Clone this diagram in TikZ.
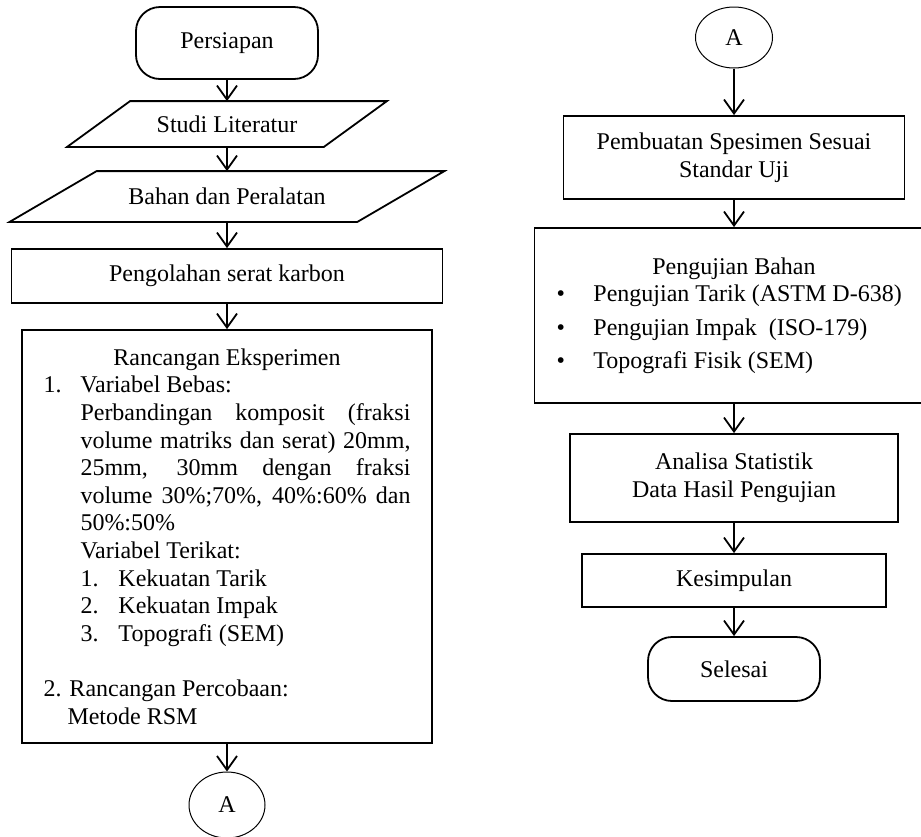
\documentclass[tikz,border=0pt]{standalone}
\usepackage{fontspec}
\setmainfont{Liberation Serif}
\usetikzlibrary{shapes.geometric,arrows.meta}
\setlength{\parindent}{0pt}
\newcommand{\testitem}[1]{\makebox[199.5pt][l]{\hspace*{11pt}\makebox[18.5pt][l]{\textbullet}#1}}

\begin{document}
\begin{tikzpicture}[x=0.5pt, y=-0.5pt,
	every node/.style={font=\fontsize{12}{13.8}\selectfont, line width=0.9pt, inner sep=2pt},
	procbox/.style={draw, rectangle, align=center},
	termbox/.style={draw, rectangle, rounded corners=12pt, align=center},
	iobox/.style={rectangle, inner sep=0pt},
	connector/.style={draw, ellipse, line width=0.5pt, inner sep=0pt},
	flow/.style={line width=0.9pt, -{Straight Barb[length=7pt,width=10pt]}}]
		\useasboundingbox (0,0) rectangle (921,836);

		%––––– left column –––––
		\node[termbox, minimum width=91pt, minimum height=36pt] (start) at (227,43) {Persiapan};

		\node[iobox, minimum width=159pt, minimum height=22pt] (lit) at (227,124) {Studi Literatur};
		\draw[line width=0.9pt] ([xshift=31.5pt]lit.north west) -- (lit.north east)
			-- ([xshift=-31.5pt]lit.south east) -- (lit.south west) -- cycle;
		\draw[flow] (start.south) -- (lit.north);

		\node[iobox, minimum width=216.5pt, minimum height=24.5pt] (tools) at (227,196.5) {Bahan dan Peralatan};
		\draw[line width=0.9pt] ([xshift=43.5pt]tools.north west) -- (tools.north east)
			-- ([xshift=-43.5pt]tools.south east) -- (tools.south west) -- cycle;
		\draw[flow] (lit.south) -- (tools.north);

		\node[procbox, minimum width=215.5pt, minimum height=27pt] (fiber) at (227,276) {Pengolahan serat karbon};
		\draw[flow] (tools.south) -- (fiber.north);

		\node[draw, rectangle, text width=183.5pt, inner xsep=10.75pt, minimum height=206.5pt, align=justify]
			(design)
			at
			(227,536.5)
			{%
				{\centering Rancangan Eksperimen\par}
				\makebox[18.5pt][l]{1.}Variabel Bebas:\par
				{\leftskip=18.5pt \hyphenpenalty=10000
				Perbandingan komposit (fraksi\linebreak volume matriks dan serat) 20mm,\linebreak
				25mm, 30mm dengan fraksi\linebreak volume 30\%;70\%, 40\%:60\% dan\linebreak 50\%:50\%\par
				Variabel Terikat:\par
				\makebox[19pt][l]{1.}Kekuatan Tarik\par
				\makebox[19pt][l]{2.}Kekuatan Impak\par
				\makebox[19pt][l]{3.}Topografi (SEM)\par}
				\vspace{13.8pt}
				2. Rancangan Percobaan:\par
				{\leftskip=12pt Metode RSM\par}
			};
		\draw[flow] (fiber.south) -- (design.north);

		\node[connector, minimum width=38pt, minimum height=33pt] (linkout) at (227,805) {A};
		\draw[flow] (design.south) -- (linkout.north);

		%––––– right column –––––
		\node[connector, minimum width=38.5pt, minimum height=30.5pt] (linkin) at (734,37.5) {A};

		\node[procbox, minimum width=170.5pt, minimum height=41.5pt] (spec) at (734,157.5) {Pembuatan Spesimen Sesuai\\Standar Uji};
		\draw[flow] (linkin.south) -- (spec.north);

		\node[procbox, minimum width=199.5pt, minimum height=87.5pt, inner xsep=0pt]
			(test)
			at
			(734,315.5)
			{%
				Pengujian Bahan\\
				\testitem{Pengujian Tarik (ASTM D-638)}\\[2.8pt]
				\testitem{Pengujian Impak\ \ (ISO-179)}\\[2.8pt]
				\testitem{Topografi Fisik (SEM)}
			};
		\draw[flow] (spec.south) -- (test.north);

		\node[procbox, minimum width=164pt, minimum height=44pt] (stat) at (734,478) {Analisa Statistik\\Data Hasil Pengujian};
		\draw[flow] (test.south) -- (stat.north);

		\node[procbox, minimum width=152pt, minimum height=26.5pt] (concl) at (734,580.5) {Kesimpulan};
		\draw[flow] (stat.south) -- (concl.north);

		\node[termbox, minimum width=86pt, minimum height=32pt] (finish) at (734,669) {Selesai};
		\draw[flow] (concl.south) -- (finish.north);
	\end{tikzpicture}
\end{document}
